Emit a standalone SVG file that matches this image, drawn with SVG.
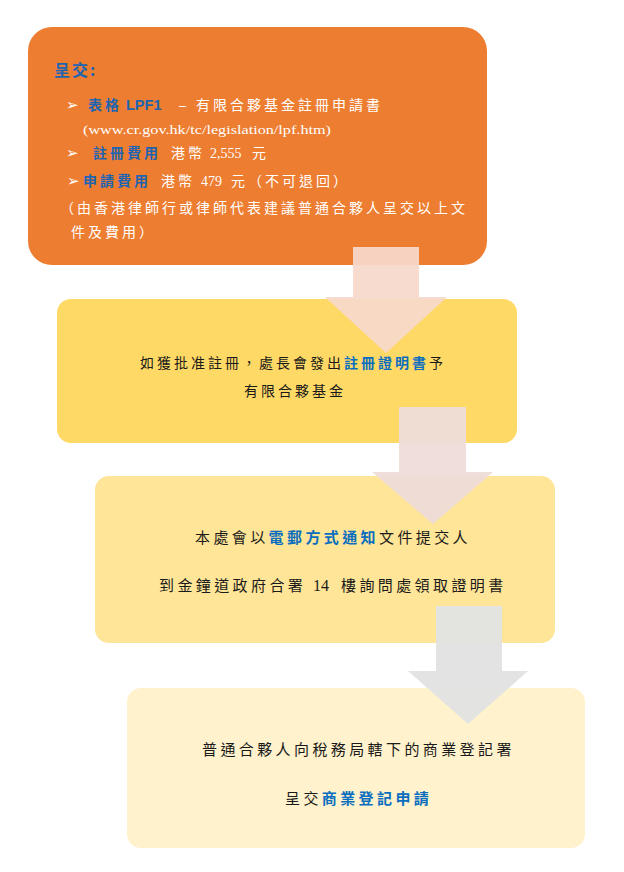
<svg xmlns="http://www.w3.org/2000/svg" width="624" height="872" viewBox="0 0 624 872">
<style>
.cjk{font-family:"Noto Sans CJK TC","Noto Sans CJK SC",sans-serif;}
.w{fill:#ffffff;}
.k{fill:#1a1a1a;}
.bt{fill:#1E64B0;font-weight:bold;}
.bl{fill:#0A6EC0;font-weight:bold;}
.s14{font-size:14px;letter-spacing:3px;}
.s15{font-size:15px;letter-spacing:3.4px;}
.ser{font-family:"Liberation Serif",serif;}
.arr{font-family:"DejaVu Sans",sans-serif;font-size:15px;fill:#ffffff;}
</style>
<rect width="624" height="872" fill="#ffffff"/>
<g id="node1">
<rect x="28" y="27" width="459" height="238" rx="24" fill="#ED7D31"/>
<text class="cjk bt" x="54" y="76" font-size="16" letter-spacing="2">呈交:</text>
<text class="arr" x="66" y="110">➢</text>
<text class="cjk bt" x="88" y="110" font-size="14" letter-spacing="3">表格</text>
<text x="126" y="110" font-family="Liberation Sans,sans-serif" font-size="14.5" font-weight="bold" fill="#1E64B0">LPF1</text>
<text x="179" y="110" font-family="Liberation Sans,sans-serif" font-size="13" class="w">–</text>
<text class="cjk w s14" x="196" y="110" letter-spacing="2.8">有限合夥基金註冊申請書</text>
<text class="ser w" x="83" y="134" font-size="13" textLength="248" lengthAdjust="spacingAndGlyphs">(www.cr.gov.hk/tc/legislation/lpf.htm)</text>
<text class="arr" x="66" y="158">➢</text>
<text class="cjk bt s14" x="93" y="158">註冊費用</text>
<text class="cjk w s14" x="171" y="158">港幣</text>
<text class="ser w" x="210" y="158" font-size="14">2,555</text>
<text class="cjk w s14" x="252" y="158">元</text>
<text class="arr" x="67" y="186">➢</text>
<text class="cjk bt s14" x="83" y="186">申請費用</text>
<text class="cjk w s14" x="161" y="186">港幣</text>
<text class="ser w" x="201" y="186" font-size="14">479</text>
<text class="cjk w s14" x="231" y="186" letter-spacing="1">元（不可退回）</text>
<text class="cjk w s14" x="60" y="213">（由香港律師行或律師代表建議普通合夥人呈交以上文</text>
<text class="cjk w s14" x="71" y="237">件及費用）</text>
</g>
<g id="node2">
<rect x="57" y="299" width="460" height="144" rx="14" fill="#FFD966"/>
<text class="cjk k s14" x="140" y="368" letter-spacing="3.2">如獲批准註冊，處長會發出<tspan class="bl">註冊證明書</tspan>予</text>
<text class="cjk k s14" x="244" y="396" letter-spacing="3.2">有限合夥基金</text>
</g>
<g id="node3">
<rect x="95" y="476" width="460" height="167" rx="14" fill="#FFE597"/>
<text class="cjk k s15" x="195" y="543">本處會以<tspan class="bl">電郵方式通知</tspan>文件提交人</text>
<text class="cjk k s15" x="159" y="591" letter-spacing="3.7">到金鐘道政府合署</text>
<text class="ser k" x="313" y="591" font-size="16">14</text>
<text class="cjk k s15" x="341" y="591" letter-spacing="3.7">樓詢問處領取證明書</text>
</g>
<g id="node4">
<rect x="127" y="688" width="458" height="160" rx="14" fill="#FFF2CC"/>
<text class="cjk k s15" x="202" y="755">普通合夥人向稅務局轄下的商業登記署</text>
<text class="cjk k s15" x="285" y="804">呈交<tspan class="bl">商業登記申請</tspan></text>
</g>
<g id="connectors">
<polygon points="353,247 419,247 419,297 447,297 386,353 325,297 353,297" fill="#F8D8CB" fill-opacity="0.93"/>
<polygon points="399,407 466,407 466,472 493,472 433,524 372,472 399,472" fill="#EEDCD8" fill-opacity="0.95"/>
<polygon points="436,606 502,606 502,671 528,671 468,724 408,671 436,671" fill="#E2E2E2" fill-opacity="0.97"/>
</g>
</svg>
